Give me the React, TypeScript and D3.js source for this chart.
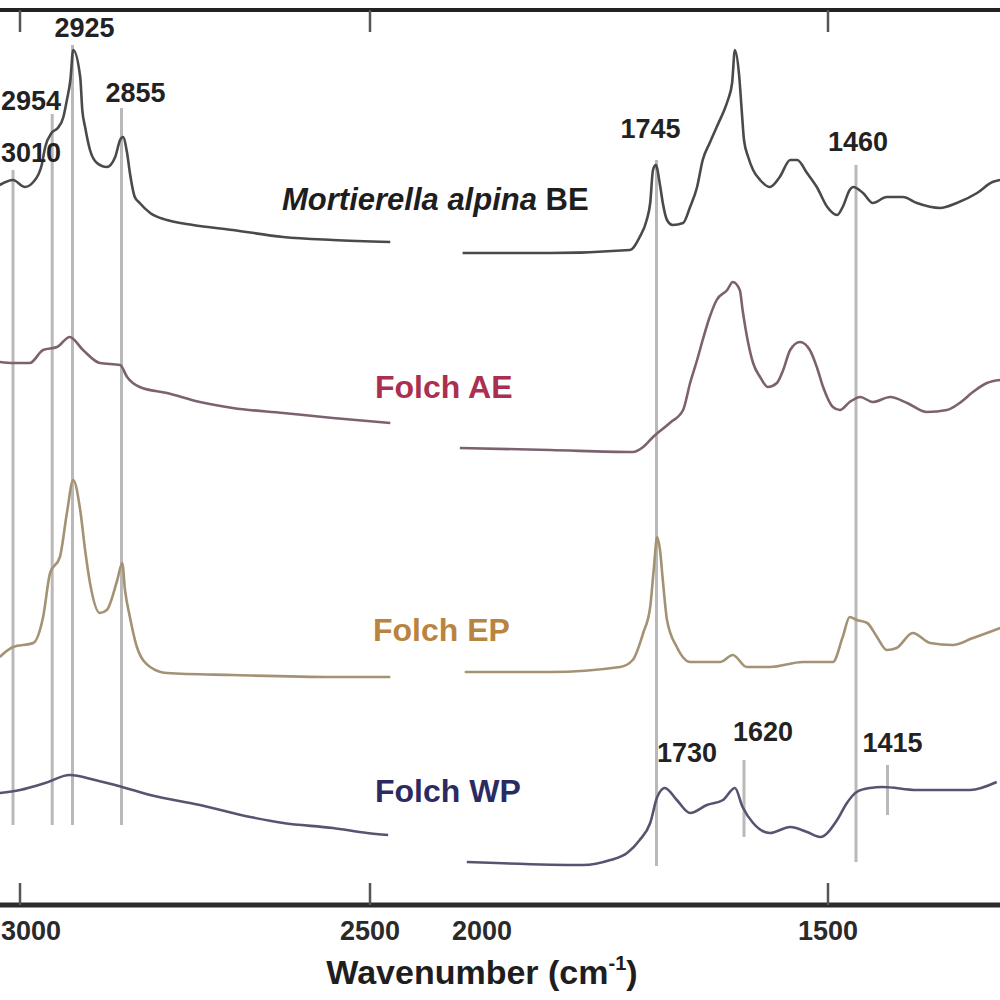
import React from 'react';
import * as d3 from 'd3';

// ---------------- DATA ----------------
const xTicksLeft = [3000, 2500];
const xTicksRight = [2000, 1500];
const xTitle = 'Wavenumber (cm';

const seriesNames = ['Mortierella alpina BE', 'Folch AE', 'Folch EP', 'Folch WP'];

// [wavenumber cm-1, absorbance (offset, a.u.)]
const beLeft: [number, number][] = [
  [3029, 3.6], [3010, 3.625], [2993, 3.59], [2981, 3.615], [2969, 3.7], [2964, 3.79],
  [2955, 3.86], [2946, 3.885], [2938, 3.94], [2933, 4.025], [2928, 4.125], [2924, 4.275],
  [2914, 4.14], [2911, 3.975], [2907, 3.89], [2900, 3.775], [2890, 3.71], [2876, 3.69],
  [2864, 3.74], [2857, 3.825], [2853, 3.84], [2847, 3.76], [2843, 3.66], [2836, 3.54],
  [2829, 3.51], [2814, 3.46], [2790, 3.425], [2753, 3.4], [2696, 3.375], [2624, 3.34],
  [2553, 3.325], [2471, 3.315],
];
const beRight: [number, number][] = [
  [2022, 3.26], [1897, 3.26], [1783, 3.275], [1769, 3.34], [1759, 3.425], [1754, 3.51],
  [1750, 3.675], [1746, 3.7], [1740, 3.6], [1736, 3.51], [1730, 3.425], [1722, 3.4],
  [1707, 3.41], [1697, 3.49], [1687, 3.59], [1679, 3.725], [1669, 3.81], [1659, 3.89],
  [1650, 3.96], [1643, 4.025], [1637, 4.11], [1633, 4.275], [1627, 4.15], [1623, 3.96],
  [1620, 3.825], [1614, 3.74], [1607, 3.675], [1597, 3.625], [1583, 3.59], [1569, 3.64],
  [1554, 3.725], [1544, 3.725], [1530, 3.66], [1516, 3.59], [1501, 3.49], [1487, 3.45],
  [1479, 3.49], [1469, 3.575], [1464, 3.59], [1450, 3.56], [1436, 3.51], [1416, 3.54],
  [1393, 3.54], [1373, 3.51], [1340, 3.485], [1316, 3.51], [1287, 3.56], [1265, 3.615],
  [1254, 3.625],
];

const aeLeft: [number, number][] = [
  [3029, 2.715], [3010, 2.71], [2986, 2.71], [2967, 2.775], [2947, 2.79], [2929, 2.84],
  [2910, 2.775], [2886, 2.71], [2857, 2.7], [2847, 2.64], [2829, 2.59], [2790, 2.56],
  [2743, 2.515], [2696, 2.485], [2624, 2.46], [2553, 2.435], [2471, 2.41],
];
const aeRight: [number, number][] = [
  [2026, 2.285], [1897, 2.275], [1779, 2.265], [1764, 2.29], [1750, 2.34], [1726, 2.41],
  [1707, 2.475], [1697, 2.61], [1687, 2.725], [1679, 2.825], [1669, 2.94], [1659, 3.025],
  [1644, 3.075], [1636, 3.115], [1626, 3.075], [1622, 2.975], [1614, 2.81], [1607, 2.71],
  [1597, 2.64], [1586, 2.59], [1573, 2.61], [1564, 2.675], [1554, 2.775], [1540, 2.815],
  [1526, 2.775], [1516, 2.69], [1507, 2.59], [1493, 2.49], [1483, 2.475], [1469, 2.515],
  [1454, 2.54], [1436, 2.515], [1411, 2.54], [1387, 2.51], [1359, 2.465], [1330, 2.475],
  [1312, 2.51], [1293, 2.565], [1273, 2.61], [1254, 2.625],
];

const epLeft: [number, number][] = [
  [3029, 1.24], [3010, 1.29], [2981, 1.31], [2967, 1.44], [2957, 1.66], [2943, 1.74],
  [2933, 1.96], [2924, 2.125], [2914, 1.975], [2907, 1.775], [2900, 1.61], [2886, 1.46],
  [2876, 1.475], [2861, 1.625], [2854, 1.71], [2850, 1.575], [2843, 1.44], [2833, 1.29],
  [2814, 1.19], [2790, 1.16], [2696, 1.15], [2553, 1.14], [2471, 1.14],
];
const epRight: [number, number][] = [
  [2019, 1.165], [1897, 1.165], [1797, 1.19], [1779, 1.225], [1764, 1.36], [1754, 1.49],
  [1749, 1.675], [1744, 1.84], [1740, 1.775], [1736, 1.625], [1730, 1.425], [1716, 1.29],
  [1697, 1.215], [1654, 1.215], [1636, 1.25], [1616, 1.19], [1583, 1.19], [1536, 1.215],
  [1493, 1.215], [1479, 1.34], [1469, 1.44], [1459, 1.425], [1444, 1.41], [1430, 1.34],
  [1416, 1.275], [1402, 1.285], [1379, 1.36], [1354, 1.31], [1322, 1.3], [1293, 1.335],
  [1273, 1.36], [1254, 1.385],
];

const wpLeft: [number, number][] = [
  [3029, 0.56], [3000, 0.575], [2964, 0.61], [2929, 0.65], [2893, 0.625], [2854, 0.59],
  [2814, 0.55], [2743, 0.5], [2671, 0.44], [2624, 0.41], [2553, 0.385], [2504, 0.36],
  [2474, 0.35],
];
const wpRight: [number, number][] = [
  [2016, 0.215], [1850, 0.2], [1811, 0.225], [1787, 0.26], [1769, 0.325], [1754, 0.41],
  [1744, 0.54], [1733, 0.585], [1716, 0.525], [1697, 0.46], [1673, 0.5], [1650, 0.525],
  [1633, 0.585], [1622, 0.49], [1607, 0.41], [1583, 0.36], [1554, 0.39], [1530, 0.365],
  [1511, 0.34], [1487, 0.425], [1473, 0.51], [1459, 0.565], [1440, 0.585], [1422, 0.59],
  [1373, 0.575], [1297, 0.575], [1259, 0.615],
];

const markerWavenumbers = [3010, 2954, 2925, 2855, 1745, 1460, 1620, 1415];
const peakLabelValues = [3010, 2954, 2925, 2855, 1745, 1460, 1730, 1620, 1415];

// ---------------- LAYOUT / STYLE ----------------
const W = 1000;
const H = 1000;
const axisY = 905;
const topY = 10;

const xL = d3.scaleLinear().domain([3000, 2500]).range([20, 370]);
const xR = d3.scaleLinear().domain([2000, 1500]).range([478, 828]);
const xOf = (wn: number) => (wn > 2250 ? xL(wn) : xR(wn));
const y = d3.scaleLinear().domain([0, 4.5]).range([905, 5]);

const seriesStyle = [
  { stroke: '#4a4a4a', text: '#1e1e1e', lx: 282, ly: 210 },
  { stroke: '#7c6270', text: '#ab2f50', lx: 375, ly: 398 },
  { stroke: '#a39274', text: '#b8843f', lx: 373, ly: 641 },
  { stroke: '#55556f', text: '#2b2b62', lx: 375, ly: 802 },
];
const seriesData = [
  [beLeft, beRight],
  [aeLeft, aeRight],
  [epLeft, epRight],
  [wpLeft, wpRight],
];

// marker line vertical extents (px)
const markerExtent: Record<number, [number, number]> = {
  3010: [170, 825], 2954: [114, 825], 2925: [45, 825], 2855: [108, 825],
  1745: [160, 866], 1460: [165, 862], 1620: [760, 837], 1415: [765, 815],
};
// peak label placement: [x (px) or dx from line, baseline y, anchor]
const peakLabelPos: Record<number, [number, number, 'start' | 'middle']> = {
  3010: [1, 162, 'start'], 2954: [1, 110, 'start'], 2925: [12, 37, 'middle'], 2855: [14, 102, 'middle'],
  1745: [-6, 138, 'middle'], 1460: [2, 151, 'middle'], 1730: [20, 762, 'middle'], 1620: [19, 741, 'middle'],
  1415: [5, 752, 'middle'],
};

const FONT = "'Liberation Sans', Arial, Helvetica, sans-serif";

export default function App() {
  const line = d3
    .line<[number, number]>()
    .x((d) => xOf(d[0]))
    .y((d) => y(d[1]))
    .curve(d3.curveMonotoneX);

  const tickWns = [...xTicksLeft, ...xTicksRight];
  const tickMarks = [3000, 2500, 1500];

  return (
    <div style={{ position: 'absolute', left: 0, top: 0, width: W, height: H, background: '#fff' }}>
      <svg width={W} height={H} viewBox={`0 0 ${W} ${H}`} style={{ display: 'block', fontFamily: FONT }}>
        <rect x={0} y={0} width={W} height={H} fill="#fff" />

        {/* marker lines */}
        {markerWavenumbers.map((wn) => (
          <line
            key={`m${wn}`}
            x1={xOf(wn)}
            x2={xOf(wn)}
            y1={markerExtent[wn][0]}
            y2={markerExtent[wn][1]}
            stroke="#b9b9b9"
            strokeWidth={3}
          />
        ))}

        {/* spectra */}
        {seriesData.map((segs, i) =>
          segs.map((seg, j) => (
            <path
              key={`s${i}-${j}`}
              d={line(seg) || ''}
              fill="none"
              stroke={seriesStyle[i].stroke}
              strokeWidth={2.6}
              strokeLinejoin="round"
            />
          ))
        )}

        {/* frame */}
        <line x1={0} x2={W} y1={topY} y2={topY} stroke="#222" strokeWidth={4} />
        <line x1={0} x2={W} y1={axisY} y2={axisY} stroke="#2c2c2c" strokeWidth={5} />
        {tickMarks.map((wn) => (
          <g key={`t${wn}`}>
            <line x1={xOf(wn)} x2={xOf(wn)} y1={topY} y2={topY + 22} stroke="#555" strokeWidth={2.5} />
            <line x1={xOf(wn)} x2={xOf(wn)} y1={axisY} y2={axisY - 22} stroke="#555" strokeWidth={2.5} />
          </g>
        ))}

        {/* tick labels */}
        {tickWns.map((wn) => {
          const cx = xOf(wn) + (wn === 2000 ? 4 : 0);
          const edge = cx < 32;
          return (
            <text
              key={`tl${wn}`}
              x={edge ? 1 : cx}
              y={940}
              textAnchor={edge ? 'start' : 'middle'}
              fontSize={27}
              fontWeight="bold"
              fill="#2a2a2a"
            >
              {wn}
            </text>
          );
        })}

        {/* axis title */}
        <text x={482} y={984} textAnchor="middle" fontSize={34} fontWeight="bold" fill="#1e1e1e">
          {xTitle}
          <tspan fontSize={20} dy={-14}>-1</tspan>
          <tspan dy={14}>)</tspan>
        </text>

        {/* peak labels */}
        {peakLabelValues.map((wn) => {
          const [dx, by, anchor] = peakLabelPos[wn];
          return (
            <text
              key={`pl${wn}`}
              x={anchor === 'start' ? dx : xOf(wn) + dx}
              y={by}
              textAnchor={anchor}
              fontSize={27}
              fontWeight="bold"
              fill="#222"
            >
              {wn}
            </text>
          );
        })}

        {/* series labels */}
        <text x={seriesStyle[0].lx} y={seriesStyle[0].ly} fontSize={31} fontWeight="bold" fill={seriesStyle[0].text}>
          <tspan fontStyle="italic">{seriesNames[0].replace(' BE', '')}</tspan>
          <tspan> BE</tspan>
        </text>
        {seriesNames.slice(1).map((name, k) => {
          const st = seriesStyle[k + 1];
          return (
            <text key={name} x={st.lx} y={st.ly} fontSize={32} fontWeight="bold" fill={st.text}>
              {name}
            </text>
          );
        })}
      </svg>
    </div>
  );
}
